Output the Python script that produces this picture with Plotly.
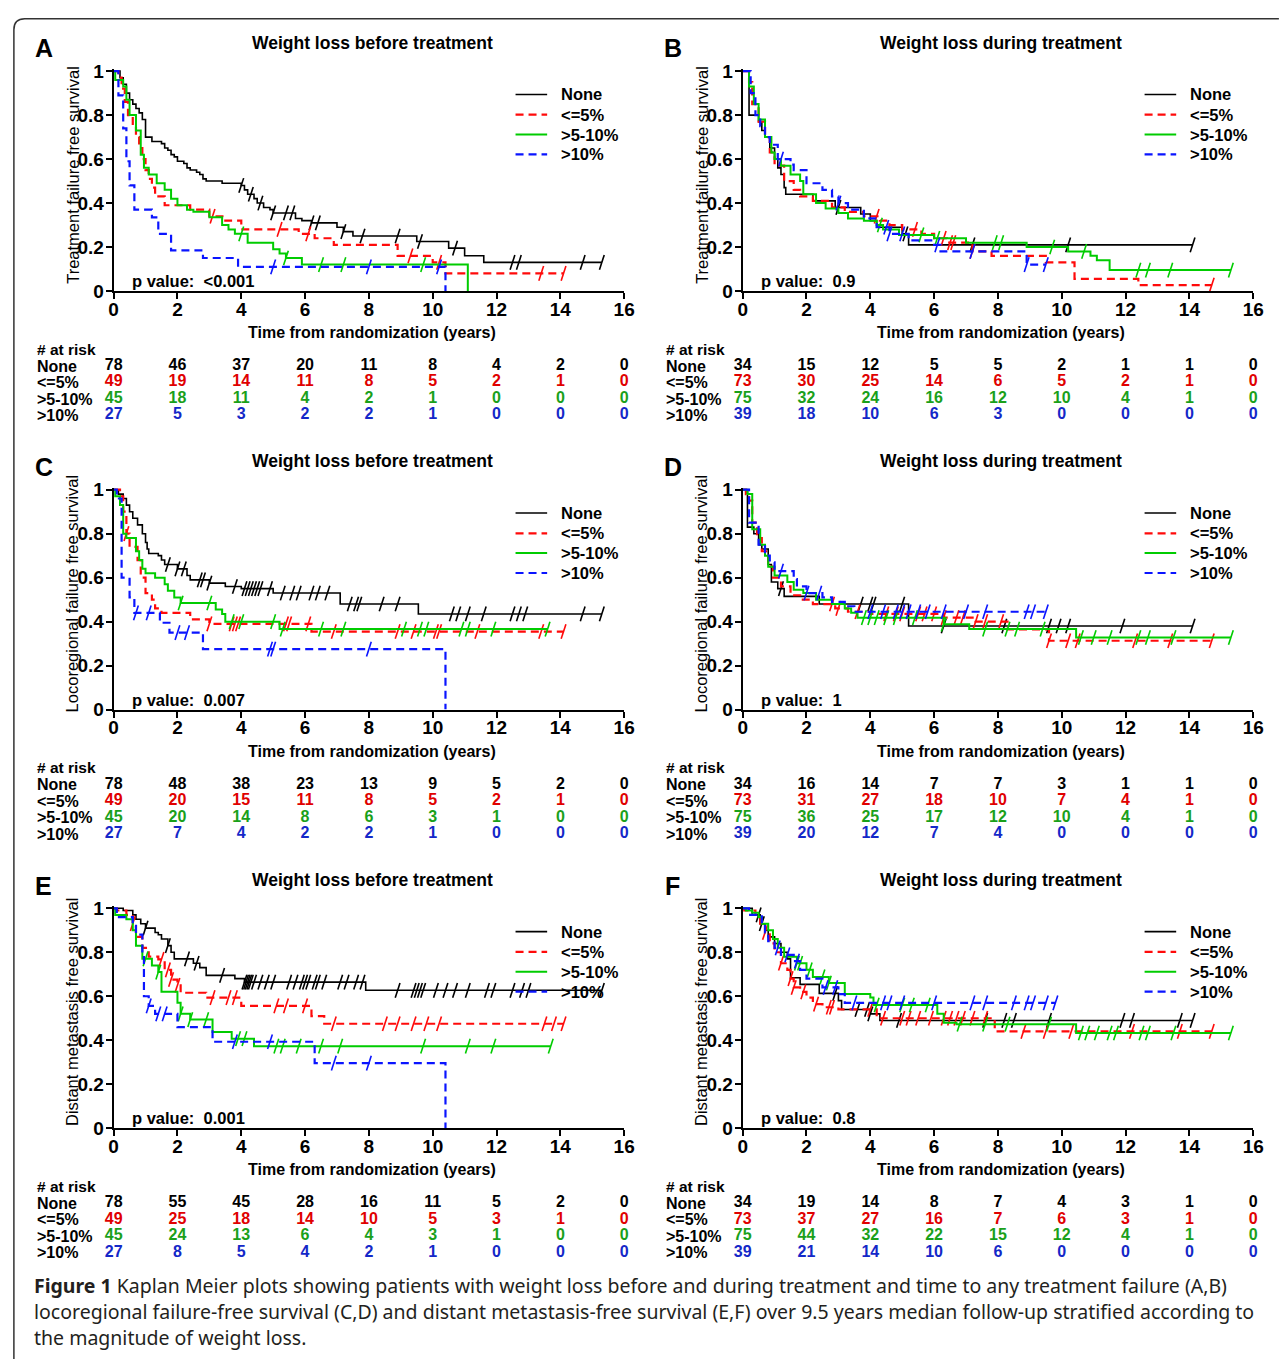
import plotly.graph_objects as go

# ---------------- data ----------------
groups = ["None", "&lt;=5%", "&gt;5-10%", "&gt;10%"]
risk_times = [0, 2, 4, 6, 8, 10, 12, 14, 16]

# Panel A: treatment failure free survival, weight loss before treatment
A_none = [(0,1),(0.2,0.97),(0.3,0.94),(0.4,0.9),(0.5,0.87),(0.6,0.85),(0.7,0.83),(0.8,0.81),(0.9,0.78),(1.0,0.7),(1.2,0.68),(1.5,0.67),(1.6,0.65),(1.7,0.64),(1.8,0.62),(1.9,0.61),(2.0,0.59),(2.2,0.58),(2.3,0.56),(2.4,0.55),(2.6,0.54),(2.7,0.53),(2.8,0.51),(2.9,0.5),(3.4,0.49),(4.0,0.48),(4.1,0.46),(4.2,0.44),(4.4,0.42),(4.5,0.4),(4.7,0.38),(4.9,0.37),(5.0,0.355),(5.7,0.33),(5.9,0.32),(6.2,0.31),(7.0,0.29),(7.2,0.27),(7.5,0.25),(9.5,0.225),(10.5,0.195),(11.0,0.16),(11.6,0.13),(15.3,0.13)]
A_none_cens = [4.0, 4.3, 4.6, 5.0, 5.4, 5.6, 6.2, 6.4, 7.2, 7.8, 8.9, 9.6, 10.7, 12.5, 12.7, 14.7, 15.3]
A_le5 = [(0,1),(0.15,0.97),(0.25,0.92),(0.35,0.86),(0.45,0.8),(0.6,0.76),(0.7,0.7),(0.8,0.65),(0.9,0.6),(1.0,0.55),(1.1,0.51),(1.2,0.47),(1.3,0.43),(1.6,0.39),(2.4,0.37),(3.0,0.34),(3.5,0.32),(4.0,0.28),(5.8,0.26),(6.3,0.24),(6.9,0.21),(8.9,0.16),(10.0,0.13),(10.4,0.08),(14.1,0.08)]
A_le5_cens = [3.1, 5.2, 6.1, 9.3, 10.2, 13.4, 14.1]
A_510 = [(0,1),(0.05,0.96),(0.3,0.93),(0.4,0.87),(0.5,0.8),(0.7,0.73),(0.85,0.62),(0.95,0.56),(1.1,0.53),(1.35,0.49),(1.6,0.46),(1.8,0.42),(2.0,0.39),(2.3,0.37),(2.5,0.36),(3.0,0.335),(3.4,0.3),(3.6,0.28),(3.8,0.26),(4.2,0.22),(5.0,0.19),(5.2,0.17),(5.4,0.15),(5.9,0.12),(11.1,0.12),(11.1,0)]
A_510_cens = [4.0, 5.4, 6.5, 7.2, 9.7]
A_gt10 = [(0,1),(0.15,0.89),(0.3,0.74),(0.4,0.59),(0.5,0.48),(0.65,0.37),(1.2,0.335),(1.4,0.26),(1.8,0.185),(2.8,0.15),(3.9,0.11),(10.4,0.11),(10.4,0)]
A_gt10_cens = [5.0, 8.0, 10.2]
A_risk_none = [78, 46, 37, 20, 11, 8, 4, 2, 0]
A_risk_le5 = [49, 19, 14, 11, 8, 5, 2, 1, 0]
A_risk_510 = [45, 18, 11, 4, 2, 1, 0, 0, 0]
A_risk_gt10 = [27, 5, 3, 2, 2, 1, 0, 0, 0]

# Panel B: treatment failure free survival, weight loss during treatment
B_none = [(0,1),(0.2,0.8),(0.5,0.77),(0.6,0.73),(0.7,0.7),(0.85,0.65),(1.0,0.6),(1.1,0.56),(1.2,0.53),(1.3,0.47),(1.35,0.44),(2.2,0.41),(2.9,0.38),(3.7,0.35),(4.0,0.32),(4.2,0.29),(5.0,0.26),(5.2,0.21),(14.1,0.21)]
B_none_cens = [3.0, 5.1, 7.2, 10.2, 14.1]
B_le5 = [(0,1),(0.2,0.95),(0.3,0.85),(0.5,0.77),(0.7,0.7),(0.85,0.63),(1.0,0.57),(1.3,0.5),(1.6,0.46),(1.8,0.43),(2.2,0.41),(2.8,0.38),(3.2,0.36),(3.8,0.34),(4.3,0.32),(4.6,0.3),(5.0,0.28),(5.6,0.26),(6.0,0.24),(6.4,0.22),(7.2,0.18),(7.8,0.16),(9.5,0.13),(10.4,0.055),(12.4,0.027),(14.7,0.027)]
B_le5_cens = [4.2, 5.4, 6.3, 6.5, 6.6, 7.2, 14.7]
B_510 = [(0,1),(0.2,0.93),(0.35,0.85),(0.5,0.78),(0.7,0.7),(0.9,0.63),(1.0,0.6),(1.2,0.57),(1.5,0.53),(1.8,0.5),(1.9,0.44),(2.3,0.4),(2.6,0.375),(3.0,0.355),(3.3,0.33),(3.8,0.32),(4.2,0.3),(4.4,0.28),(4.9,0.255),(6.0,0.24),(7.0,0.22),(8.9,0.2),(10.2,0.18),(10.9,0.16),(11.1,0.14),(11.5,0.095),(15.3,0.095)]
B_510_cens = [4.3, 5.6, 6.1, 7.9, 8.1, 9.7, 10.7, 12.4, 12.7, 13.4, 15.3]
B_gt10 = [(0,1),(0.25,0.9),(0.4,0.8),(0.55,0.75),(0.7,0.7),(0.85,0.665),(1.1,0.6),(1.5,0.575),(1.6,0.55),(2.0,0.49),(2.5,0.46),(2.8,0.43),(3.0,0.4),(3.3,0.37),(3.8,0.33),(4.2,0.29),(4.6,0.26),(5.2,0.23),(6.0,0.21),(6.2,0.18),(8.9,0.12),(9.5,0.12)]
B_gt10_cens = [1.2, 3.0, 4.5, 4.6, 5.0, 6.1, 7.2, 8.9, 9.5]
B_risk_none = [34, 15, 12, 5, 5, 2, 1, 1, 0]
B_risk_le5 = [73, 30, 25, 14, 6, 5, 2, 1, 0]
B_risk_510 = [75, 32, 24, 16, 12, 10, 4, 1, 0]
B_risk_gt10 = [39, 18, 10, 6, 3, 0, 0, 0, 0]

# Panel C: locoregional failure free survival, before treatment
C_none = [(0,1),(0.15,0.98),(0.3,0.96),(0.4,0.93),(0.5,0.9),(0.6,0.87),(0.75,0.84),(0.9,0.8),(1.0,0.76),(1.05,0.73),(1.1,0.71),(1.4,0.7),(1.5,0.68),(1.6,0.66),(2.0,0.64),(2.3,0.61),(2.4,0.59),(3.0,0.575),(3.5,0.56),(4.0,0.55),(5.0,0.53),(7.1,0.48),(9.55,0.435),(15.3,0.435)]
C_none_cens = [1.7, 2.0, 2.2, 2.7, 2.8, 3.0, 3.8, 4.1, 4.2, 4.3, 4.4, 4.5, 4.6, 4.9, 5.3, 5.6, 5.8, 6.2, 6.4, 6.7, 7.4, 7.6, 7.7, 8.4, 8.9, 10.6, 10.8, 11.1, 11.6, 12.5, 12.7, 12.9, 14.7, 15.3]
C_le5 = [(0,1),(0.2,0.97),(0.3,0.9),(0.4,0.8),(0.5,0.74),(0.75,0.68),(0.85,0.6),(1.0,0.53),(1.2,0.5),(1.3,0.46),(1.5,0.44),(2.4,0.41),(3.0,0.39),(6.2,0.355),(14.1,0.355)]
C_le5_cens = [0.4, 3.0, 3.7, 3.8, 3.9, 5.4, 5.5, 6.1, 6.9, 8.9, 9.4, 10.1, 10.2, 11.4, 13.4, 14.1]
C_510 = [(0,1),(0.05,0.97),(0.2,0.93),(0.3,0.8),(0.4,0.78),(0.7,0.72),(0.8,0.68),(0.9,0.64),(1.0,0.62),(1.3,0.6),(1.6,0.57),(1.7,0.54),(1.9,0.51),(2.1,0.485),(3.2,0.455),(3.4,0.435),(3.5,0.4),(5.2,0.366),(13.6,0.366)]
C_510_cens = [2.1, 3.0, 3.7, 4.0, 5.0, 5.3, 6.5, 7.2, 9.1, 9.6, 9.8, 10.9, 11.1, 11.9, 13.6]
C_gt10 = [(0,1),(0.1,0.96),(0.25,0.6),(0.5,0.51),(0.65,0.44),(1.45,0.395),(1.75,0.35),(2.8,0.275),(10.4,0.275),(10.4,0)]
C_gt10_cens = [0.7, 1.1, 2.0, 2.3, 4.9, 5.0, 8.0]
C_risk_none = [78, 48, 38, 23, 13, 9, 5, 2, 0]
C_risk_le5 = [49, 20, 15, 11, 8, 5, 2, 1, 0]
C_risk_510 = [45, 20, 14, 8, 6, 3, 1, 0, 0]
C_risk_gt10 = [27, 7, 4, 2, 2, 1, 0, 0, 0]

# Panel D: locoregional failure free survival, during treatment
D_none = [(0,1),(0.15,0.83),(0.35,0.8),(0.5,0.75),(0.6,0.73),(0.8,0.66),(0.9,0.58),(1.1,0.55),(1.3,0.515),(2.4,0.48),(5.2,0.38),(14.1,0.38)]
D_none_cens = [1.2, 3.7, 4.0, 4.1, 5.0, 6.3, 8.2, 9.6, 9.9, 10.2, 11.9, 14.1]
D_le5 = [(0,1),(0.1,0.98),(0.2,0.95),(0.3,0.85),(0.45,0.78),(0.6,0.72),(0.8,0.65),(0.95,0.6),(1.2,0.56),(1.5,0.52),(1.8,0.5),(2.2,0.48),(2.9,0.46),(3.3,0.445),(4.0,0.435),(6.3,0.418),(7.3,0.4),(8.3,0.365),(9.6,0.313),(14.7,0.313)]
D_le5_cens = [2.8, 3.0, 3.6, 4.5, 4.8, 5.0, 5.5, 5.7, 6.0, 6.3, 6.7, 6.9, 7.3, 7.6, 8.1, 9.6, 10.2, 10.5, 12.3, 13.4, 14.7]
D_510 = [(0,1),(0.15,0.98),(0.3,0.82),(0.55,0.75),(0.7,0.7),(0.8,0.65),(1.0,0.61),(1.4,0.58),(1.6,0.545),(1.9,0.53),(2.3,0.5),(2.8,0.48),(3.2,0.46),(3.4,0.44),(3.6,0.418),(6.3,0.388),(7.1,0.366),(10.45,0.328),(15.3,0.328)]
D_510_cens = [3.8, 4.0, 4.2, 4.5, 4.8, 5.4, 6.3, 7.6, 8.3, 8.6, 9.4, 10.6, 11.0, 11.5, 12.4, 12.7, 13.5, 15.3]
D_gt10 = [(0,1),(0.2,0.85),(0.5,0.75),(0.7,0.7),(0.85,0.67),(1.0,0.63),(1.6,0.594),(1.7,0.56),(2.0,0.53),(2.5,0.51),(2.8,0.49),(3.2,0.47),(3.5,0.445),(9.5,0.445)]
D_gt10_cens = [1.2, 2.0, 2.4, 4.0, 4.4, 4.8, 5.0, 5.2, 5.5, 5.8, 6.3, 7.0, 7.6, 8.9, 9.1, 9.5]
D_risk_none = [34, 16, 14, 7, 7, 3, 1, 1, 0]
D_risk_le5 = [73, 31, 27, 18, 10, 7, 4, 1, 0]
D_risk_510 = [75, 36, 25, 17, 12, 10, 4, 1, 0]
D_risk_gt10 = [39, 20, 12, 7, 4, 0, 0, 0, 0]

# Panel E: distant metastasis free survival, before treatment
E_none = [(0,1),(0.3,0.99),(0.6,0.97),(0.7,0.95),(0.85,0.93),(1.0,0.91),(1.3,0.89),(1.4,0.88),(1.5,0.86),(1.7,0.83),(1.8,0.8),(1.9,0.77),(2.5,0.75),(2.7,0.73),(2.9,0.695),(3.8,0.68),(4.1,0.664),(7.9,0.627),(15.3,0.627)]
E_none_cens = [1.0, 1.7, 2.3, 2.6, 3.4, 4.1, 4.15, 4.2, 4.25, 4.3, 4.4, 4.6, 4.8, 5.0, 5.5, 5.7, 5.9, 6.0, 6.1, 6.3, 6.4, 6.6, 7.1, 7.3, 7.6, 7.8, 8.9, 9.4, 9.5, 9.6, 9.7, 10.1, 10.4, 10.7, 11.1, 11.7, 11.9, 12.5, 12.8, 13.0, 15.3]
E_le5 = [(0,1),(0.1,0.99),(0.4,0.97),(0.6,0.93),(0.7,0.87),(0.9,0.82),(1.1,0.78),(1.4,0.768),(1.6,0.72),(1.8,0.676),(2.0,0.65),(2.1,0.616),(2.9,0.594),(4.0,0.556),(6.2,0.51),(6.6,0.475),(14.1,0.475)]
E_le5_cens = [0.6, 1.5, 1.7, 1.8, 2.0, 3.1, 3.6, 3.8, 5.1, 5.4, 6.0, 6.9, 8.5, 8.9, 9.4, 9.8, 10.2, 13.5, 13.8, 14.1]
E_510 = [(0,1),(0.05,0.97),(0.4,0.95),(0.6,0.9),(0.7,0.83),(0.9,0.77),(1.2,0.74),(1.4,0.71),(1.5,0.62),(2.0,0.57),(2.1,0.52),(2.4,0.494),(3.1,0.437),(3.7,0.407),(4.4,0.373),(13.7,0.373)]
E_510_cens = [1.0, 1.4, 2.1, 2.4, 2.9, 3.9, 4.1, 5.1, 5.3, 5.8, 6.5, 7.1, 9.7, 11.1, 11.9, 13.7]
E_gt10 = [(0,1),(0.1,0.96),(0.6,0.92),(0.7,0.88),(0.9,0.79),(0.95,0.6),(1.1,0.556),(1.3,0.52),(2.0,0.46),(3.1,0.393),(6.3,0.296),(10.4,0.296),(10.4,0)]
E_gt10_cens = [1.1, 1.4, 1.6, 3.8, 4.9, 6.9, 8.0]
E_risk_none = [78, 55, 45, 28, 16, 11, 5, 2, 0]
E_risk_le5 = [49, 25, 18, 14, 10, 5, 3, 1, 0]
E_risk_510 = [45, 24, 13, 6, 4, 3, 1, 0, 0]
E_risk_gt10 = [27, 8, 5, 4, 2, 1, 0, 0, 0]

# Panel F: distant metastasis free survival, during treatment
F_none = [(0,1),(0.3,0.97),(0.55,0.93),(0.7,0.9),(0.8,0.87),(1.0,0.84),(1.2,0.8),(1.4,0.77),(1.5,0.684),(1.8,0.654),(2.4,0.613),(3.0,0.58),(3.1,0.54),(4.0,0.52),(4.3,0.49),(14.1,0.49)]
F_none_cens = [0.5, 0.6, 2.9, 3.6, 3.9, 4.0, 4.9, 7.6, 8.2, 8.5, 9.6, 11.9, 12.2, 13.7, 14.1]
F_le5 = [(0,1),(0.05,0.99),(0.4,0.97),(0.55,0.93),(0.7,0.89),(0.85,0.84),(1.0,0.8),(1.2,0.75),(1.4,0.72),(1.5,0.68),(1.6,0.64),(1.8,0.62),(2.0,0.594),(2.2,0.564),(2.5,0.55),(3.0,0.54),(4.2,0.5),(7.9,0.44),(14.7,0.44)]
F_le5_cens = [0.7, 1.2, 1.5, 1.6, 1.9, 2.3, 2.7, 2.8, 4.0, 4.4, 5.0, 5.2, 5.5, 5.9, 6.3, 6.5, 6.7, 6.9, 7.2, 7.6, 8.8, 9.5, 10.3, 12.2, 13.7, 14.7]
F_510 = [(0,1),(0.1,0.99),(0.3,0.98),(0.5,0.96),(0.6,0.93),(0.8,0.9),(0.95,0.86),(1.1,0.82),(1.3,0.78),(1.7,0.75),(2.0,0.72),(2.2,0.688),(2.7,0.66),(3.2,0.61),(4.0,0.594),(4.1,0.56),(6.1,0.52),(6.3,0.48),(6.7,0.473),(10.45,0.433),(15.3,0.433)]
F_510_cens = [1.7, 1.8, 2.1, 2.5, 2.7, 4.2, 5.0, 5.3, 5.8, 6.8, 7.6, 8.3, 9.6, 10.6, 10.8, 11.1, 11.5, 11.7, 12.5, 12.7, 13.5, 15.3]
F_gt10 = [(0,1),(0.2,0.97),(0.6,0.93),(0.7,0.89),(0.8,0.85),(1.0,0.82),(1.2,0.788),(1.6,0.76),(1.8,0.72),(2.0,0.68),(2.5,0.64),(3.0,0.61),(3.2,0.57),(9.8,0.57)]
F_gt10_cens = [1.1, 1.4, 1.7, 2.6, 2.9, 3.5, 4.4, 4.6, 5.0, 6.0, 7.2, 7.6, 8.5, 8.9, 9.1, 9.5, 9.8]
F_risk_none = [34, 19, 14, 8, 7, 4, 3, 1, 0]
F_risk_le5 = [73, 37, 27, 16, 7, 6, 3, 1, 0]
F_risk_510 = [75, 44, 32, 22, 15, 12, 4, 1, 0]
F_risk_gt10 = [39, 21, 14, 10, 6, 0, 0, 0, 0]

panel_letters = ["A", "B", "C", "D", "E", "F"]
panel_titles = ["Weight loss before treatment", "Weight loss during treatment"] * 3
y_titles = ["Treatment failure free survival"] * 2 + ["Locoregional failure free survival"] * 2 + ["Distant metastasis free survival"] * 2
p_values = ["&lt;0.001", "0.9", "0.007", "1", "0.001", "0.8"]
x_title = "Time from randomization (years)"
y_tickvals = [0, 0.2, 0.4, 0.6, 0.8, 1]
y_ticktext = ["0", "0.2", "0.4", "0.6", "0.8", "1"]
x_tickvals = [0, 2, 4, 6, 8, 10, 12, 14, 16]

curves = [
    [A_none, A_le5, A_510, A_gt10], [B_none, B_le5, B_510, B_gt10],
    [C_none, C_le5, C_510, C_gt10], [D_none, D_le5, D_510, D_gt10],
    [E_none, E_le5, E_510, E_gt10], [F_none, F_le5, F_510, F_gt10],
]
censors = [
    [A_none_cens, A_le5_cens, A_510_cens, A_gt10_cens], [B_none_cens, B_le5_cens, B_510_cens, B_gt10_cens],
    [C_none_cens, C_le5_cens, C_510_cens, C_gt10_cens], [D_none_cens, D_le5_cens, D_510_cens, D_gt10_cens],
    [E_none_cens, E_le5_cens, E_510_cens, E_gt10_cens], [F_none_cens, F_le5_cens, F_510_cens, F_gt10_cens],
]
risks = [
    [A_risk_none, A_risk_le5, A_risk_510, A_risk_gt10], [B_risk_none, B_risk_le5, B_risk_510, B_risk_gt10],
    [C_risk_none, C_risk_le5, C_risk_510, C_risk_gt10], [D_risk_none, D_risk_le5, D_risk_510, D_risk_gt10],
    [E_risk_none, E_risk_le5, E_risk_510, E_risk_gt10], [F_risk_none, F_risk_le5, F_risk_510, F_risk_gt10],
]

caption_lines = [
    "<b>Figure 1</b> Kaplan Meier plots showing patients with weight loss before and during treatment and time to any treatment failure (A,B)",
    "locoregional failure-free survival (C,D) and distant metastasis-free survival (E,F) over 9.5 years median follow-up stratified according to",
    "the magnitude of weight loss.",
]

# ---------------- styles ----------------
curve_colors = ["#000000", "#FF0A0A", "#00CC00", "#0A14FF"]
risk_colors = ["#000000", "#E00000", "#1AA01A", "#1428C8"]
curve_dash = ["solid", "8px,5px", "solid", "8px,5px"]
curve_width = [1.6, 2.2, 2.0, 2.2]
FONT = "Liberation Sans, Arial, sans-serif"

W, H = 1281, 1365
def px(x):
    return x / W
def py(y):
    return 1 - y / H

ROW_DY = 424.5
COL_X = [(110, 627), (747, 1264)]
Y_TOP, Y_BOT = 64, 287
YMAX = 1.01
UNIT = Y_BOT - Y_TOP

def step_at(pts, t):
    v = pts[0][1]
    for tt, ss in pts:
        if tt <= t:
            v = ss
        else:
            break
    return v

fig = go.Figure()
layout = dict(
    width=W, height=H, autosize=False,
    margin=dict(l=0, r=0, t=0, b=0),
    paper_bgcolor="white", plot_bgcolor="white",
    font=dict(family=FONT, color="black"),
    showlegend=False,
)
annotations = []
shapes = []

def ann(text, x, y, size, xanchor="center", yanchor="middle", angle=0, family=FONT, color="black"):
    annotations.append(dict(text=text, x=px(x), y=py(y), xref="paper", yref="paper",
                            xanchor=xanchor, yanchor=yanchor, showarrow=False, textangle=angle,
                            font=dict(size=size, family=family, color=color)))

for i in range(6):
    col, row = i % 2, i // 2
    dy = row * ROW_DY
    x0, x1 = COL_X[col]
    ox = x0 - 110
    ia, ib = 2 * i + 1, 2 * i + 2
    xa, ya = f"x{ia}", f"y{ia}"
    xb, yb = f"x{ib}", f"y{ib}"

    layout[f"xaxis{ia}"] = dict(
        domain=[px(x0), px(x1)], range=[0, 16], anchor=ya,
        tickmode="array", tickvals=x_tickvals, ticks="outside", ticklen=6, tickwidth=2,
        tickcolor="black", showline=True, linewidth=2, linecolor="black",
        showgrid=False, zeroline=False, ticklabelstandoff=-6,
        tickfont=dict(size=19, family=FONT, color="black", weight="bold"),
    )
    layout[f"yaxis{ia}"] = dict(
        domain=[py(Y_BOT + dy), py(Y_TOP + dy - (YMAX - 1) * UNIT)], range=[0, YMAX], anchor=xa,
        tickmode="array", tickvals=y_tickvals, ticktext=y_ticktext, ticks="outside", ticklen=6,
        tickwidth=2, tickcolor="black", showline=True, linewidth=2, linecolor="black",
        showgrid=False, zeroline=False, ticklabelstandoff=-2,
        tickfont=dict(size=19, family=FONT, color="black", weight="bold"),
    )
    # risk table axes
    layout[f"xaxis{ib}"] = dict(domain=[px(x0), px(x1)], range=[0, 16], anchor=yb, visible=False)
    layout[f"yaxis{ib}"] = dict(domain=[py(421.6 + dy), py(354.6 + dy)], range=[3.5, -0.5],
                                anchor=xb, visible=False)

    for g in range(4):
        pts = curves[i][g]
        fig.add_trace(go.Scatter(
            x=[p[0] for p in pts], y=[p[1] for p in pts], mode="lines",
            line=dict(shape="hv", color=curve_colors[g], width=curve_width[g], dash=curve_dash[g]),
            xaxis=xa, yaxis=ya, hoverinfo="skip"))
        cx = censors[i][g]
        fig.add_trace(go.Scatter(
            x=cx, y=[step_at(pts, c) for c in cx], mode="markers",
            marker=dict(symbol="line-ns", size=11, angle=18,
                        line=dict(color=curve_colors[g], width=1.6)),
            xaxis=xa, yaxis=ya, hoverinfo="skip", cliponaxis=False))
        fig.add_trace(go.Scatter(
            x=risk_times, y=[g] * len(risk_times), mode="text",
            text=[str(v) for v in risks[i][g]], textposition="middle center",
            textfont=dict(size=16, family=FONT, color=risk_colors[g], weight="bold"),
            xaxis=xb, yaxis=yb, hoverinfo="skip", cliponaxis=False))

    # texts
    ann(f"<b>{panel_letters[i]}</b>", 39 + ox, 41 + dy, 25)
    ann(f"<b>{panel_titles[i]}</b>", 372 + ox, 35 + dy, 17.5)
    ann(y_titles[i], 68 + ox, 169 + dy, 16.5, angle=-90)
    ann(f"<b>{x_title}</b>", 372 + ox, 329 + dy, 16)
    ann(f"<b>p value:&nbsp; {p_values[i]}</b>", 127 + ox, 277 + dy, 16.5, xanchor="left")
    ann("<b># at risk</b>", 30 + ox, 346 + dy, 15.5, xanchor="left")
    leg_y = [87.7, 108.2, 128.3, 148.5]
    for g in range(4):
        ann(f"<b>{groups[g]}</b>", 30 + ox, 363.3 + g * 16.7 + dy, 16, xanchor="left")
        ann(f"<b>{groups[g]}</b>", 561 + ox, leg_y[g] + dy, 16.5, xanchor="left")
        shapes.append(dict(type="line", xref="paper", yref="paper",
                           x0=px(517 + ox), x1=px(549 + ox), y0=py(leg_y[g] + dy), y1=py(leg_y[g] + dy),
                           line=dict(color=curve_colors[g], width=curve_width[g], dash=curve_dash[g])))

for k, line in enumerate(caption_lines):
    ann(line, 27, 1296 + 26 * k, 19.5, xanchor="left", family="Noto Sans, sans-serif", color="#231f20")

# frame with rounded top-left corner
frame = (f"M {px(9)},{py(1370)} L {px(9)},{py(22)} Q {px(9)},{py(11)} {px(20)},{py(11)} "
         f"L {px(1290)},{py(11)}")
shapes.append(dict(type="path", xref="paper", yref="paper", path=frame,
                   line=dict(color="#333333", width=1.5)))

layout["annotations"] = annotations
layout["shapes"] = shapes
fig.update_layout(**layout)
fig.write_html("out.html", config={"displayModeBar": False},
               post_script="document.body.style.margin='0px';document.body.style.overflow='hidden';")
